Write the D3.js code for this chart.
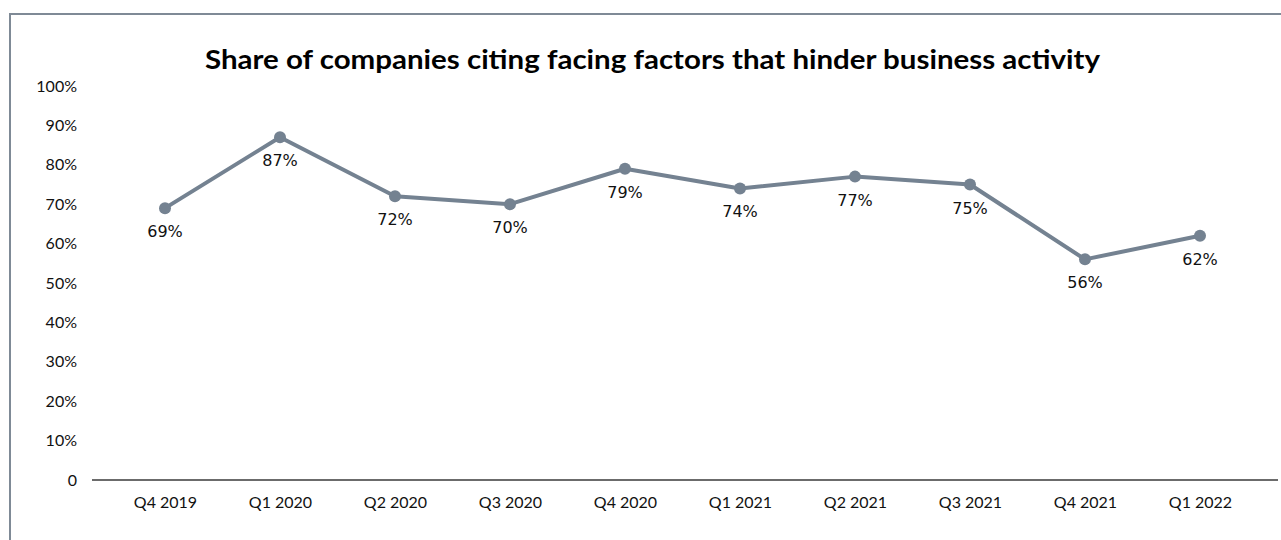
<!DOCTYPE html>
<html>
<head>
<meta charset="utf-8">
<script src="https://cdn.jsdelivr.net/npm/d3@7"></script>
<style>
  html, body { margin: 0; padding: 0; background: #fff; }
  svg { display: block; }
</style>
</head>
<body>
<svg id="chart" width="1281" height="540"></svg>
<script>
// Quarterly survey results
const quarters = ["Q4 2019", "Q1 2020", "Q2 2020", "Q3 2020", "Q4 2020",
                  "Q1 2021", "Q2 2021", "Q3 2021", "Q4 2021", "Q1 2022"];
const shares = [69, 87, 72, 70, 79, 74, 77, 75, 56, 62];
const yTicks = [0, 10, 20, 30, 40, 50, 60, 70, 80, 90, 100];
const chartTitle = "Share of companies citing facing factors that hinder business activity";

const svg = d3.select("#chart");
const W = 1281, H = 540;

// frame around the chart area
svg.append("path")
  .attr("d", `M10,${H} L10,14 L${W},14`)
  .attr("fill", "none")
  .attr("stroke", "#7f8a96")
  .attr("stroke-width", 2);

const x = d3.scalePoint().domain(quarters).range([165, 1200]);
const y = d3.scaleLinear().domain([0, 100]).range([480, 86]);

// title
svg.append("text")
  .attr("x", 652.5)
  .attr("y", 69)
  .attr("text-anchor", "middle")
  .attr("font-family", "Lato, 'Open Sans', sans-serif")
  .attr("font-weight", "bold")
  .attr("font-size", 26)
  .attr("textLength", 895)
  .attr("lengthAdjust", "spacingAndGlyphs")
  .attr("fill", "#000")
  .text(chartTitle);

// y axis labels only (no line, no ticks)
const yAxis = d3.axisLeft(y)
  .tickValues(yTicks)
  .tickSize(0)
  .tickPadding(0)
  .tickFormat(d => d === 0 ? "0" : d + "%");
const yg = svg.append("g").attr("transform", "translate(77,0)").call(yAxis);
yg.select(".domain").remove();
yg.selectAll("text")
  .attr("font-family", "Lato, 'Open Sans', sans-serif")
  .attr("font-size", 16)
  .attr("fill", "#111");

// x axis baseline
svg.append("line")
  .attr("x1", 92).attr("x2", 1278)
  .attr("y1", y(0)).attr("y2", y(0))
  .attr("stroke", "#6b6b6b")
  .attr("stroke-width", 2);

const xAxis = d3.axisBottom(x).tickSize(0).tickPadding(17);
const xg = svg.append("g").attr("transform", `translate(0,${y(0)})`).call(xAxis);
xg.select(".domain").remove();
xg.selectAll("text")
  .attr("font-family", "Lato, 'Open Sans', sans-serif")
  .attr("font-size", 16)
  .attr("fill", "#111");

// series line
const data = quarters.map((q, i) => ({ q, v: shares[i] }));
svg.append("path")
  .datum(data)
  .attr("fill", "none")
  .attr("stroke", "#748291")
  .attr("stroke-width", 4)
  .attr("stroke-linejoin", "round")
  .attr("d", d3.line().x(d => x(d.q)).y(d => y(d.v)));

svg.selectAll("circle.pt")
  .data(data)
  .join("circle")
  .attr("class", "pt")
  .attr("cx", d => x(d.q))
  .attr("cy", d => y(d.v))
  .attr("r", 6)
  .attr("fill", "#748291");

// value labels under each point
svg.selectAll("text.val")
  .data(data)
  .join("text")
  .attr("class", "val")
  .attr("x", d => x(d.q))
  .attr("y", d => y(d.v) + 29)
  .attr("text-anchor", "middle")
  .attr("font-family", "'DejaVu Sans', sans-serif")
  .attr("font-size", 16)
  .attr("fill", "#111")
  .text(d => d.v + "%");
</script>
</body>
</html>
